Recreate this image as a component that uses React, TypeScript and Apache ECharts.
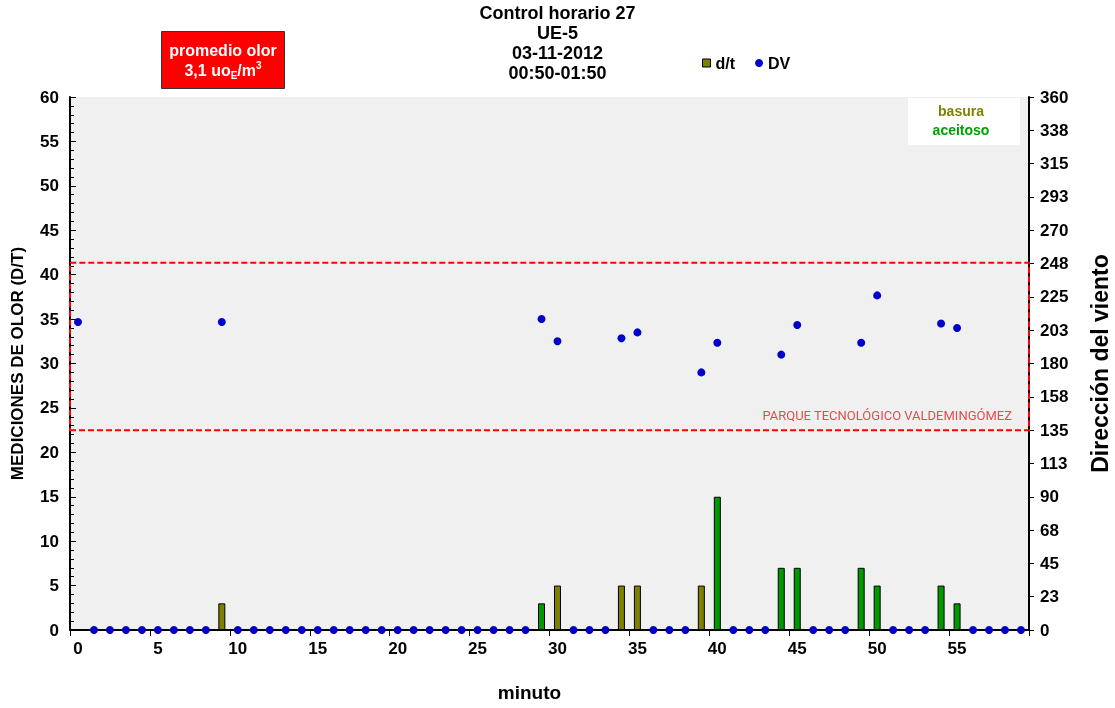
import React, { useEffect, useRef } from "react";
import * as echarts from "echarts";

const minutes = [
  "0","1","2","3","4","5","6","7","8","9",
  "10","11","12","13","14","15","16","17","18","19",
  "20","21","22","23","24","25","26","27","28","29",
  "30","31","32","33","34","35","36","37","38","39",
  "40","41","42","43","44","45","46","47","48","49",
  "50","51","52","53","54","55","56","57","58","59",
];

// d/t odour measurements (null = no bar)
const dtValues = [
  0, null, null, null, null, null, null, null, null, 3,
  null, null, null, null, null, null, null, null, null, null,
  null, null, null, null, null, null, null, null, null, 3,
  5, null, null, null, 5, 5, null, null, null, 5,
  15, null, null, null, 7, 7, null, null, null, 7,
  5, null, null, null, 5, 3, null, null, null, null,
];

// odour type per minute: B = basura, A = aceitoso
const odorType = [
  "", "", "", "", "", "", "", "", "", "B",
  "", "", "", "", "", "", "", "", "", "",
  "", "", "", "", "", "", "", "", "", "A",
  "B", "", "", "", "B", "B", "", "", "", "B",
  "A", "", "", "", "A", "A", "", "", "", "A",
  "A", "", "", "", "A", "A", "", "", "", "",
];

// wind direction (degrees)
const dvValues = [
  208, 0, 0, 0, 0, 0, 0, 0, 0, 208,
  0, 0, 0, 0, 0, 0, 0, 0, 0, 0,
  0, 0, 0, 0, 0, 0, 0, 0, 0, 210,
  195, 0, 0, 0, 197, 201, 0, 0, 0, 174,
  194, 0, 0, 0, 186, 206, 0, 0, 0, 194,
  226, 0, 0, 0, 207, 204, 0, 0, 0, 0,
];

const rightAxisLabels = [
  "0","23","45","68","90","113","135","158","180",
  "203","225","248","270","293","315","338","360",
];

const parqueRange = [135, 248];
const parqueLabel = "PARQUE TECNOLÓGICO VALDEMINGÓMEZ";

const titleLines = ["Control horario 27", "UE-5", "03-11-2012", "00:50-01:50"];

const COLORS: Record<string, string> = { B: "#808000", A: "#009900" };

export default function App() {
  const ref = useRef<HTMLDivElement>(null);

  useEffect(() => {
    document.body.style.margin = "0";
    const chart = echarts.init(ref.current!, null, { renderer: "svg" });
    const font = "Arial, 'Liberation Sans', sans-serif";

    const barData = dtValues.map((v, i) =>
      v === null
        ? null
        : {
            value: v,
            itemStyle: { color: COLORS[odorType[i]] || "#808000" },
          }
    );

    chart.setOption({
      animation: false,
      textStyle: { fontFamily: font },
      title: {
        text: titleLines.join("\n"),
        left: "center",
        top: -2,
        textStyle: {
          fontSize: 18,
          fontWeight: "bold",
          color: "#000",
          lineHeight: 20,
          fontFamily: font,
        },
      },
      legend: {
        left: 697,
        top: 50,
        itemWidth: 8,
        itemHeight: 8,
        itemGap: 20,
        textStyle: { fontSize: 16, fontWeight: "bold", color: "#000", fontFamily: font },
        data: [
          { name: "d/t", icon: "rect", itemStyle: { color: "#808000", borderColor: "#000", borderWidth: 1 } },
          { name: "DV", icon: "circle", itemStyle: { color: "#0000c8" } },
        ],
      },
      grid: {
        left: 70,
        top: 97,
        width: 959,
        height: 533,
        containLabel: false,
        outerBoundsMode: "none",
        show: true,
        backgroundColor: "#f0f0f0",
        borderWidth: 0,
      },
      xAxis: {
        type: "category",
        data: minutes,
        boundaryGap: true,
        name: "minuto",
        nameLocation: "middle",
        nameGap: 53,
        nameTextStyle: { fontSize: 19, fontWeight: "bold", color: "#000", fontFamily: font, padding: [0, 40, 0, 0] },
        axisLine: { lineStyle: { color: "#000", width: 2 } },
        axisTick: { show: true, interval: 4, length: 6, lineStyle: { color: "#000" } },
        axisLabel: { interval: 4, fontSize: 17, fontWeight: "bold", color: "#000", margin: 10, fontFamily: font },
        splitLine: { show: false },
      },
      yAxis: [
        {
          type: "value",
          min: 0,
          max: 60,
          interval: 5,
          name: "MEDICIONES DE OLOR (D/T)",
          nameLocation: "middle",
          nameRotate: 90,
          nameGap: 44,
          nameTextStyle: { fontSize: 17, fontWeight: "bold", color: "#000", fontFamily: font },
          axisLine: { show: true, lineStyle: { color: "#000", width: 2 } },
          axisTick: { show: true, inside: true, length: 6, lineStyle: { color: "#000" } },
          minorTick: { show: true, splitNumber: 5, length: 4, lineStyle: { color: "#000" } },
          axisLabel: { fontSize: 17, fontWeight: "bold", color: "#000", margin: 11, fontFamily: font },
          splitLine: { show: false },
        },
        {
          type: "value",
          min: 0,
          max: 360,
          interval: 22.5,
          position: "right",
          name: "Dirección del viento",
          nameLocation: "middle",
          nameRotate: 90,
          nameGap: 59,
          nameTextStyle: { fontSize: 23, fontWeight: "bold", color: "#000", fontFamily: font },
          axisLine: { show: true, lineStyle: { color: "#000", width: 2 } },
          axisTick: { show: true, length: 5, lineStyle: { color: "#000" } },
          axisLabel: {
            fontSize: 17,
            fontWeight: "bold",
            color: "#000",
            margin: 11,
            fontFamily: font,
            formatter: (v: number) => rightAxisLabels[Math.round(v / 22.5)] ?? "",
          },
          splitLine: { show: false },
        },
      ],
      series: [
        {
          name: "d/t",
          type: "bar",
          yAxisIndex: 0,
          data: barData,
          barWidth: 7,
          itemStyle: { color: "#808000", borderColor: "#000", borderWidth: 1 },
        },
        {
          name: "DV",
          type: "scatter",
          yAxisIndex: 1,
          data: dvValues,
          symbol: "circle",
          symbolSize: 8,
          itemStyle: { color: "#0000c8", opacity: 1 },
          z: 5,
          markArea: {
            silent: true,
            itemStyle: {
              color: "rgba(0,0,0,0)",
              borderColor: "#ff0000",
              borderWidth: 2,
              borderType: [6, 3],
            },
            label: {
              show: true,
              position: "insideBottomRight",
              distance: 9,
              padding: [0, 9, 0, 0],
              color: "rgba(215,50,50,0.85)",
              fontSize: 13,
              fontFamily: "Roboto, 'Open Sans', sans-serif",
              formatter: parqueLabel,
            },
            data: [[{ name: parqueLabel, yAxis: parqueRange[0] }, { yAxis: parqueRange[1] }]],
          },
        },
      ],
      graphic: [
        {
          type: "group",
          left: 161,
          top: 31,
          children: [
            {
              type: "rect",
              shape: { x: 0, y: 0, width: 123, height: 57 },
              style: { fill: "#ff0000", stroke: "#333", lineWidth: 1 },
            },
            {
              type: "text",
              x: 61.5,
              y: 19,
              style: {
                text: "promedio olor",
                fill: "#fff",
                font: "bold 16px " + font,
                align: "center",
                verticalAlign: "middle",
              },
            },
            {
              type: "text",
              x: 61.5,
              y: 39,
              style: {
                text: "{a|3,1 uo}{sub|E}{a|/m}{sup|3}",
                align: "center",
                verticalAlign: "middle",
                rich: {
                  a: { fill: "#fff", font: "bold 16px " + font, lineHeight: 20, verticalAlign: "middle" },
                  sub: { fill: "#fff", font: "bold 10px " + font, lineHeight: 20, verticalAlign: "bottom", padding: [9, 0, 0, 0] },
                  sup: { fill: "#fff", font: "bold 10px " + font, lineHeight: 20, verticalAlign: "top" },
                },
              },
            },
          ],
        },
        {
          type: "group",
          left: 908,
          top: 98,
          children: [
            {
              type: "rect",
              shape: { x: 0, y: 0, width: 112, height: 47 },
              style: { fill: "#ffffff" },
            },
            {
              type: "text",
              x: 53,
              y: 13,
              style: {
                text: "basura",
                fill: "#808000",
                font: "bold 14px " + font,
                align: "center",
                verticalAlign: "middle",
              },
            },
            {
              type: "text",
              x: 53,
              y: 32,
              style: {
                text: "aceitoso",
                fill: "#00a000",
                font: "bold 14px " + font,
                align: "center",
                verticalAlign: "middle",
              },
            },
          ],
        },
      ],
    });

    return () => chart.dispose();
  }, []);

  return (
    <div
      ref={ref}
      style={{ position: "fixed", left: 0, top: 0, width: 1115, height: 708 }}
    />
  );
}
